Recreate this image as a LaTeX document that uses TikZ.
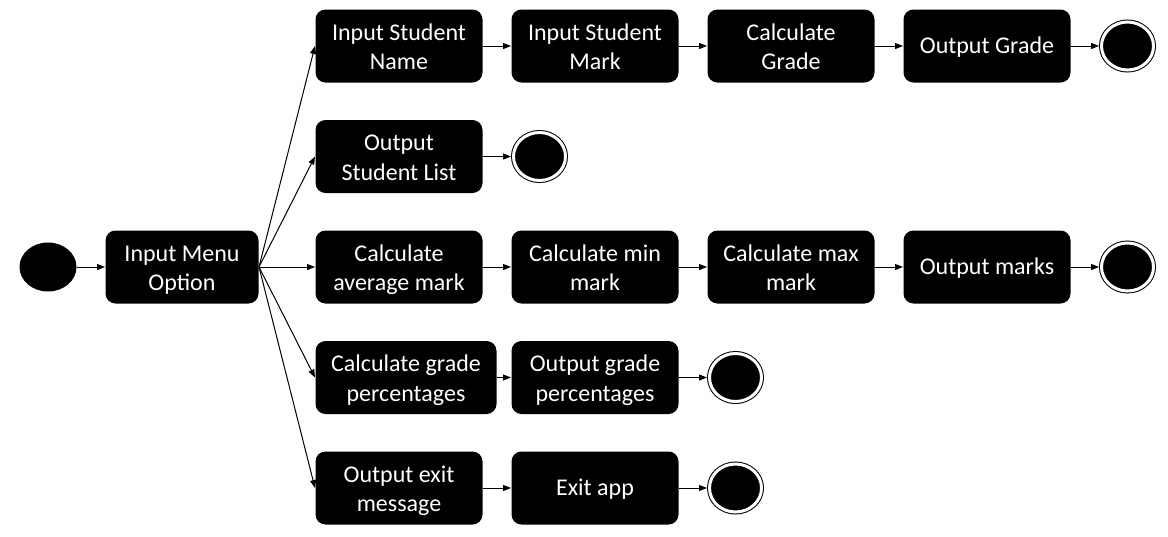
\documentclass[tikz,border=0pt]{standalone}
\usepackage{fontspec}
\setmainfont{Carlito}
\usetikzlibrary{arrows.meta, positioning, shapes.geometric}
\tikzset{
  every picture/.style={x=1pt, y=1pt, line width=1pt, font=\fontsize{24}{29.4}\selectfont},
  act/.style={fill=black, text=white, rounded corners=10pt, align=center, inner sep=2pt, minimum width=167pt, minimum height=73pt, text height=48.4pt, text depth=1pt},
  oneline/.style={text height=17pt, text depth=1.6pt},
  startdot/.style={ellipse, fill=black, inner sep=0pt, minimum width=57pt, minimum height=49pt},
  enddot/.style={ellipse, draw=black, fill=black, double=white, double distance=3pt, inner sep=0pt, outer sep=2.5pt, minimum width=52pt, minimum height=48pt},
  arrow/.style={-{Triangle[length=8pt, width=6pt]}, draw=black, line width=1pt},
}

\begin{document}
\begin{tikzpicture}
  \useasboundingbox (0,0) rectangle (1168,-536);
  % start and menu
  \node[startdot] (start) at (48,-267) {};
  \node[act, minimum width=153pt, right=28pt of start] (menu) {Input Menu\\Option};
  % first column
  \node[act, right=56pt of menu] (avg) {Calculate\\average mark};
  \node[act, above=36.5pt of avg] (list) {Output\\Student List};
  \node[act, above=36.5pt of list] (name) {Input Student\\Name};
  \node[act, minimum width=181pt, below right=36.5pt and 0pt of avg.south west] (pct) {Calculate grade\\percentages};
  \node[act, below right=36.5pt and 0pt of pct.south west] (exitmsg) {Output exit\\message};
  % add student
  \node[act, right=28pt of name] (mark) {Input Student\\Mark};
  \node[act, right=28pt of mark] (grade) {Calculate\\Grade};
  \node[act, oneline, right=28pt of grade] (outgrade) {Output Grade};
  \node[enddot, right=28pt of outgrade] (end1) {};
  % list
  \node[enddot, right=28pt of list] (end2) {};
  % marks
  \node[act, right=28pt of avg] (minmark) {Calculate min\\mark};
  \node[act, right=28pt of minmark] (maxmark) {Calculate max\\mark};
  \node[act, oneline, right=28pt of maxmark] (outmarks) {Output marks};
  \node[enddot, right=28pt of outmarks] (end3) {};
  % percentages
  \node[act, right=14pt of pct] (outpct) {Output grade\\percentages};
  \node[enddot, right=28pt of outpct] (end4) {};
  % exit
  \node[act, oneline, right=28pt of exitmsg] (exitapp) {Exit app};
  \node[enddot, right=28pt of exitapp] (end5) {};
  % connectors
  \draw[arrow] (start) -- (menu);
  \foreach \n in {name, list, avg, pct, exitmsg}
    \draw[arrow] (menu.east) -- (\n.west);
  \foreach \a/\b in {name/mark, mark/grade, grade/outgrade, outgrade/end1, list/end2,
                     avg/minmark, minmark/maxmark, maxmark/outmarks, outmarks/end3,
                     pct/outpct, outpct/end4, exitmsg/exitapp, exitapp/end5}
    \draw[arrow] (\a) -- (\b);
\end{tikzpicture}
\end{document}
